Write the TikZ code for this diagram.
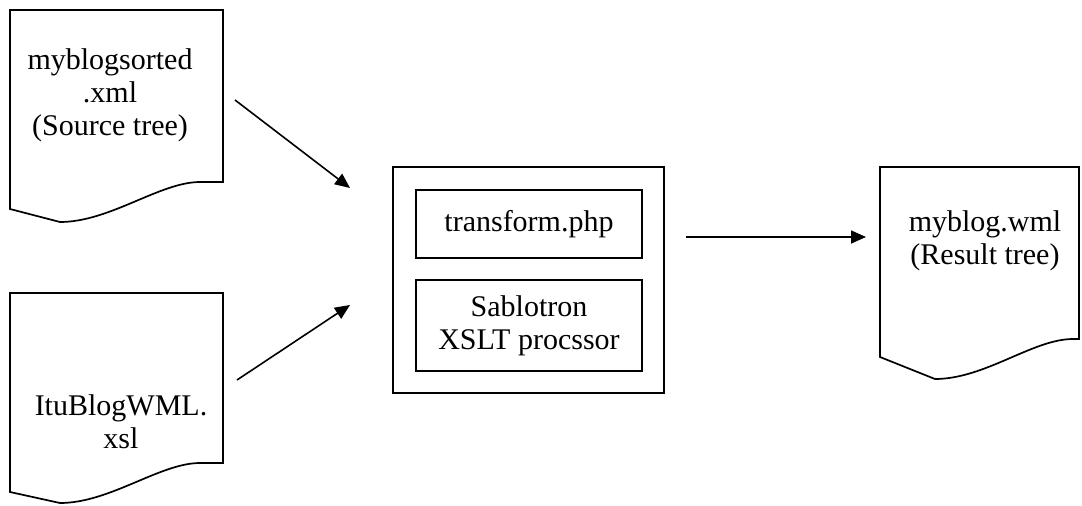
\documentclass[tikz,border=0pt]{standalone}
\usepackage{fontspec}
\setmainfont{Liberation Serif}
\usetikzlibrary{arrows.meta}

% Document symbol with a wavy lower edge.
% #1,#2 top-left corner; #3 width; #4 height of right side; #5 height of left side;
% #6 x where the wave leaves the right edge; #7 x of the lowest point of the wave
\newcommand\wavedoc[7]{%
  \begin{scope}[shift={(#1,#2)}]
    \draw[outline] (0,0) -- (#3,0) -- (#3,#4) -- (#6,#4)
      .. controls ({#6-40},#4) and ({#7+50},{#4+40}) .. (#7,{#4+40})
      -- (0,#5) -- cycle;
  \end{scope}}

\begin{document}
\begin{tikzpicture}[x=1pt,y=-1pt,
  outline/.style={line width=1.7pt, line join=miter},
  label/.style={align=center, font=\fontsize{30}{33}\selectfont, inner sep=0pt},
  procbox/.style={draw, line width=1.7pt, inner sep=0pt, align=center,
    font=\fontsize{30}{33}\selectfont},
  flow/.style={line width=1.6pt, -{Triangle[length=15pt,width=13pt]}}]
  \useasboundingbox (0,0) rectangle (1082,506);

  % input and output documents
  \wavedoc{10}{10}{213}{172}{199}{190}{50}
  \wavedoc{10}{293}{213}{170}{199}{190}{50}
  \wavedoc{880}{167}{199}{172}{190}{193}{55}

  \node[label] (src) at (110,95) {myblogsorted\\.xml\\(Source tree)};
  \node[label] (xsl) at (121,422) {ItuBlogWML.\\xsl};
  \node[label] (res) at (985,241) {myblog.wml\\(Result tree)};

  % processing unit
  \node[procbox, minimum width=271pt, minimum height=226pt] (proc) at (528.5,280) {};
  \node[procbox, minimum width=226pt, minimum height=68pt] (php) at (529,224) {transform.php};
  \node[procbox, minimum width=226pt, minimum height=91pt] (sab) at (529,325.5) {Sablotron\\XSLT procssor};

  % connectors
  \coordinate (srcout) at (235,100);
  \coordinate (procin1) at (350,188);
  \coordinate (xslout) at (237,380);
  \coordinate (procin2) at (350,305);
  \coordinate (procout) at (686,237);
  \coordinate (resin) at (866,237);

  \draw[flow] (srcout) -- (procin1);
  \draw[flow] (xslout) -- (procin2);
  \draw[flow] (procout) -- (resin);
\end{tikzpicture}
\end{document}
